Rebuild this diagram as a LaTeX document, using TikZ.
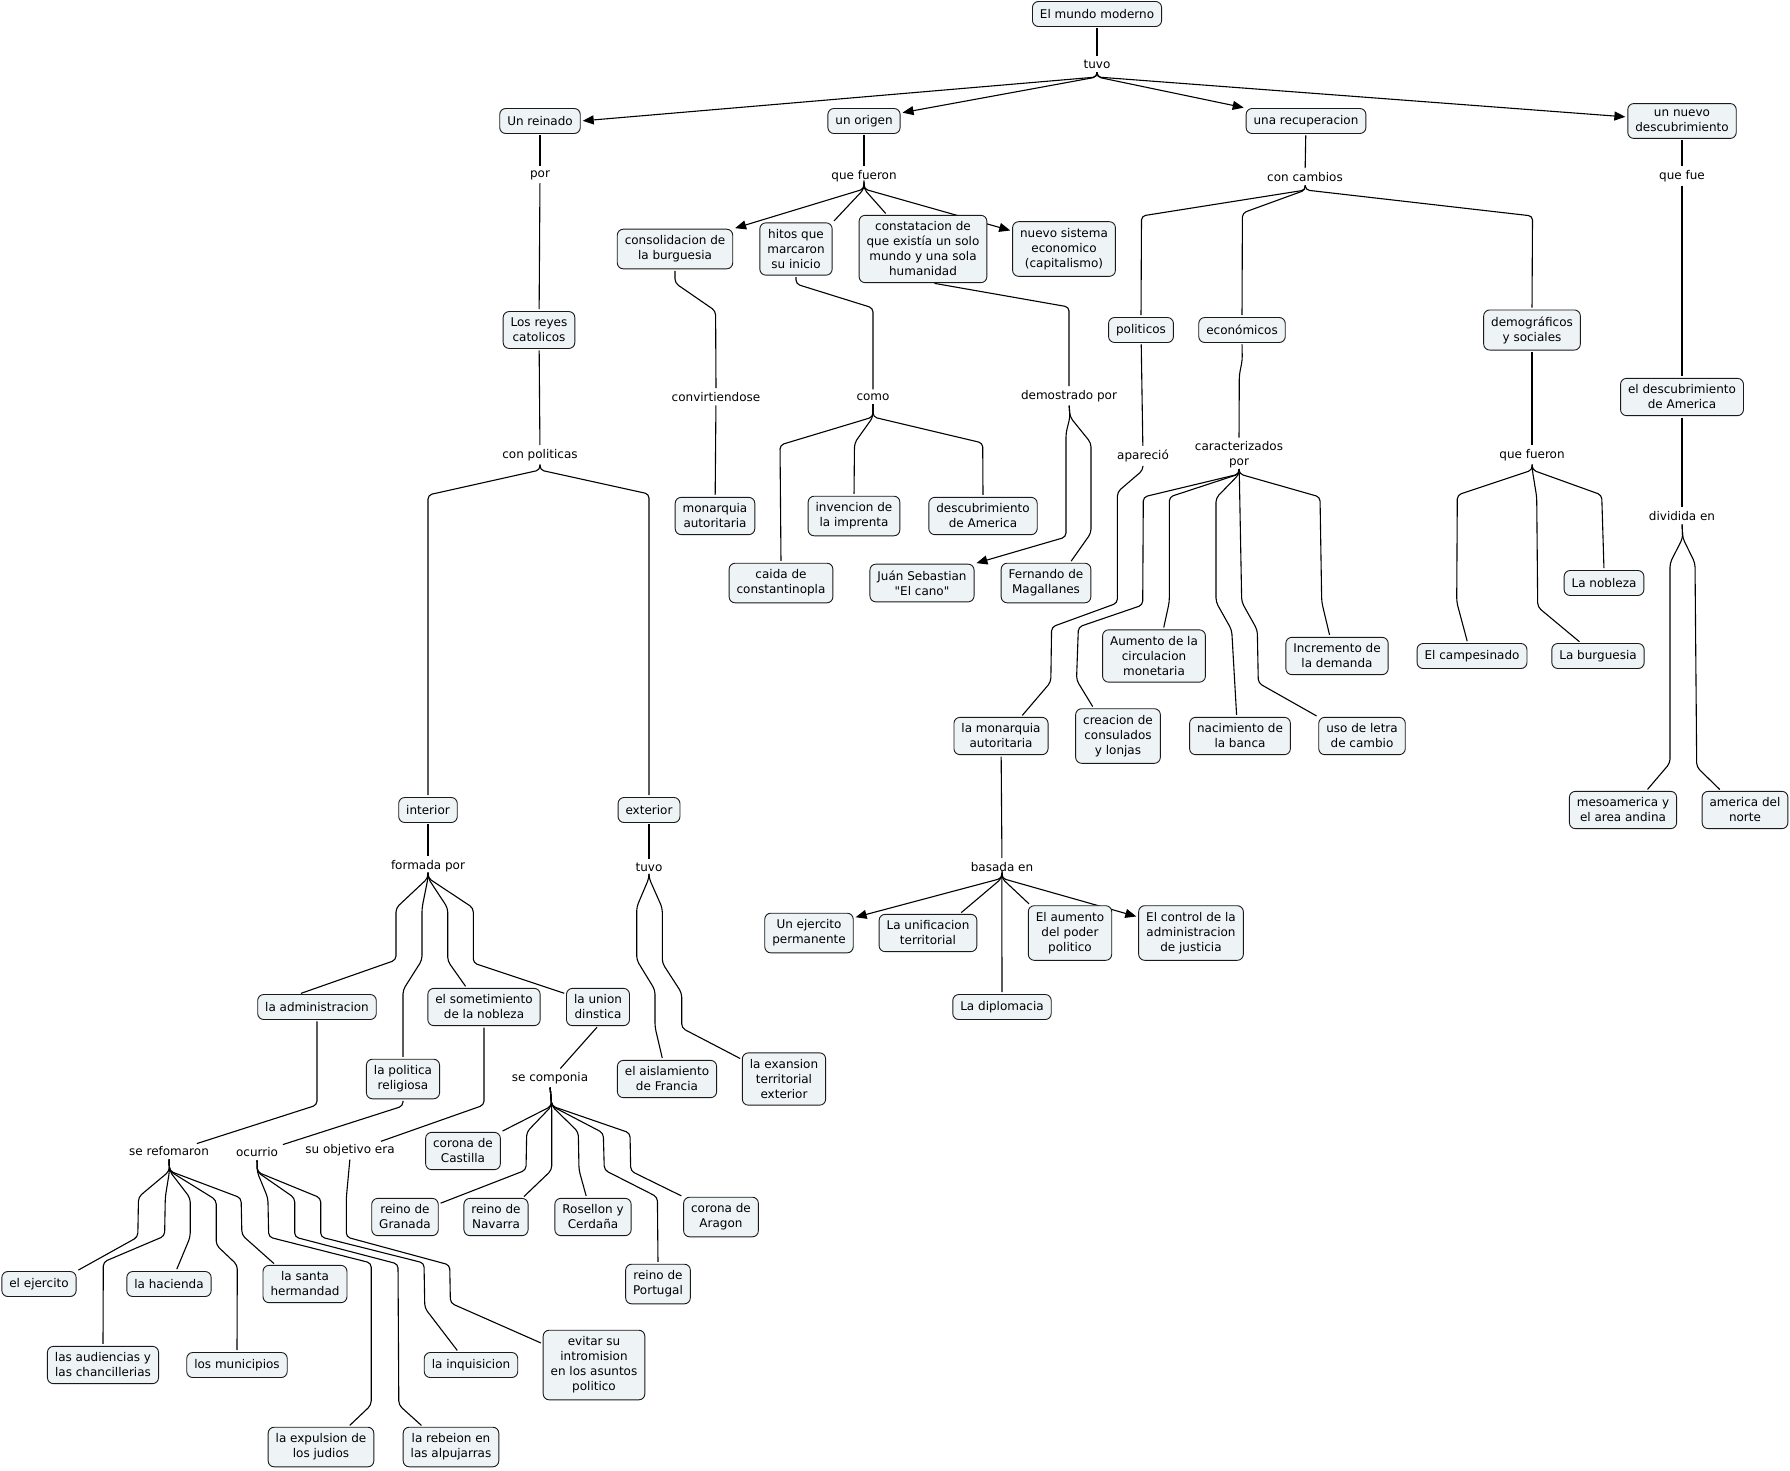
\documentclass[tikz,border=0pt]{standalone}
\usepackage{fontspec}
\setmainfont{DejaVu Sans}
\newfontfamily\rawfont{DejaVu Sans}[Ligatures=TeXOff]
\usetikzlibrary{arrows.meta,backgrounds}

\definecolor{cptfill}{HTML}{EEF3F6}
\definecolor{cptline}{HTML}{1A1A1A}

\begin{document}
\begin{tikzpicture}[
  x=1pt, y=-1pt,
  every node/.style={font=\fontsize{12}{15}\selectfont},
  cpt/.style={draw=cptline, fill=cptfill, line width=0.9pt, rounded corners=6pt,
    align=center, inner xsep=7.5pt, inner ysep=6.5pt, minimum height=25pt},
  lbl/.style={align=center, inner sep=2pt},
  link/.style={draw=black, line width=1.1pt, rounded corners=4pt, shorten <=1.5pt, shorten >=2pt},
  arr/.style={link, -{Triangle[length=11pt,width=9pt]}}
]
\useasboundingbox (0,0) rectangle (1790,1470);

% Root
\node[cpt] (mundo) at (1097,14) {El mundo moderno};
\node[lbl] (tuvoA) at (1097,64) {tuvo};

% First level
\node[cpt] (reinado) at (540,121) {Un reinado};
\node[cpt] (origen) at (864,121) {un origen};
\node[cpt] (recup) at (1306,121) {una recuperacion};
\node[cpt] (nuevo) at (1682,121) {un nuevo\\descubrimiento};

% Un reinado
\node[lbl] (por) at (540,175) {por};
\node[cpt] (reyes) at (539,330) {Los reyes\\catolicos};
\node[lbl] (conpol) at (540,455) {con politicas};
\node[cpt] (interior) at (428,810) {interior};
\node[cpt] (exterior) at (649,810) {exterior};
\node[lbl] (formada) at (428,866) {formada por};
\node[lbl] (tuvoB) at (649,867) {tuvo};
\node[cpt] (admin) at (317,1007) {la administracion};
\node[cpt] (somet) at (484,1007) {el sometimiento\\de la nobleza};
\node[cpt] (union) at (598,1007) {la union\\dinstica};
\node[cpt] (polrel) at (403,1079) {la politica\\religiosa};
\node[cpt] (aislam) at (667,1079) {el aislamiento\\de Francia};
\node[cpt] (expans) at (784,1079) {la exansion\\territorial\\exterior};
\node[lbl] (compon) at (550,1078) {se componia};
\node[cpt] (castilla) at (463,1151) {corona de\\Castilla};
\node[cpt] (granada) at (405,1217) {reino de\\Granada};
\node[cpt] (navarra) at (496,1217) {reino de\\Navarra};
\node[cpt] (rosellon) at (593,1217) {Rosellon y\\Cerdaña};
\node[cpt] (aragon) at (721,1217) {corona de\\Aragon};
\node[cpt] (portugal) at (658,1284) {reino de\\Portugal};
\node[lbl] (seref) at (169,1151) {se refomaron};
\node[lbl] (ocurrio) at (257,1152) {ocurrio};
\node[lbl] (objetivo) at (350,1150) {su objetivo era};
\node[cpt] (ejerc) at (39,1284) {el ejercito};
\node[cpt] (hacienda) at (169,1284) {la hacienda};
\node[cpt] (herman) at (305,1284) {la santa\\hermandad};
\node[cpt] (audien) at (103,1365) {las audiencias y\\las chancillerias};
\node[cpt] (munic) at (237,1365) {los municipios};
\node[cpt] (inquis) at (471,1365) {la inquisicion};
\node[cpt] (evitar) at (594,1365) {evitar su\\intromision\\en los asuntos\\politico};
\node[cpt] (expuls) at (321,1447) {la expulsion de\\los judios};
\node[cpt] (rebel) at (451,1447) {la rebeion en\\las alpujarras};

% un origen
\node[lbl] (fueronA) at (864,176) {que fueron};
\node[cpt] (consol) at (675,249) {consolidacion de\\la burguesia};
\node[cpt] (hitos) at (796,249) {hitos que\\marcaron\\su inicio};
\node[cpt] (constat) at (923,249) {constatacion de\\que existía un solo\\mundo y una sola\\humanidad};
\node[cpt] (sistema) at (1064,249) {nuevo sistema\\economico\\(capitalismo)};
\node[lbl] (convirt) at (716,397) {convirtiendose};
\node[lbl] (como) at (873,397) {como};
\node[lbl] (demost) at (1069,396) {demostrado por};
\node[cpt] (monaut) at (715,516) {monarquia\\autoritaria};
\node[cpt] (imprenta) at (854,516) {invencion de\\la imprenta};
\node[cpt] (descam) at (983,516) {descubrimiento\\de America};
\node[cpt] (caida) at (781,583) {caida de\\constantinopla};
\node[cpt] (elcano) at (922,583) {Juán Sebastian\\{\rawfont"El cano"}};
\node[cpt] (magall) at (1046,583) {Fernando de\\Magallanes};

% una recuperacion
\node[lbl] (cambios) at (1305,177) {con cambios};
\node[cpt] (politicos) at (1141,330) {politicos};
\node[cpt] (economicos) at (1242,330) {económicos};
\node[cpt] (demog) at (1532,330) {demográficos\\y sociales};
\node[lbl] (aparecio) at (1143,456) {apareció};
\node[lbl] (caract) at (1239,455) {caracterizados\\por};
\node[lbl] (fueronB) at (1532,455) {que fueron};
\node[cpt] (monaut2) at (1001,736) {la monarquia\\autoritaria};
\node[cpt] (consul) at (1118,736) {creacion de\\consulados\\y lonjas};
\node[cpt] (circul) at (1154,656) {Aumento de la\\circulacion\\monetaria};
\node[cpt] (banca) at (1240,736) {nacimiento de\\la banca};
\node[cpt] (letra) at (1362,736) {uso de letra\\de cambio};
\node[cpt] (demanda) at (1337,656) {Incremento de\\la demanda};
\node[cpt] (nobleza) at (1604,583) {La nobleza};
\node[cpt] (campes) at (1472,656) {El campesinado};
\node[cpt] (burgues) at (1598,656) {La burguesia};
\node[lbl] (basada) at (1002,867) {basada en};
\node[cpt] (ejercito) at (809,933) {Un ejercito\\permanente};
\node[cpt] (unific) at (928,933) {La unificacion\\territorial};
\node[cpt] (poder) at (1070,933) {El aumento\\del poder\\politico};
\node[cpt] (control) at (1191,933) {El control de la\\administracion\\de justicia};
\node[cpt] (diplom) at (1002,1007) {La diplomacia};

% un nuevo descubrimiento
\node[lbl] (quefue) at (1682,176) {que fue};
\node[cpt] (descub) at (1682,397) {el descubrimiento\\de America};
\node[lbl] (dividida) at (1682,516) {dividida en};
\node[cpt] (mesoam) at (1623,810) {mesoamerica y\\el area andina};
\node[cpt] (norte) at (1745,810) {america del\\norte};

\begin{scope}[on background layer]
\fill[white] (0,0) rectangle (1790,1470);

% root links
\draw[link] (mundo) -- (tuvoA);
\draw[arr] (tuvoA.south) -- (1097,77) -- (reinado.east);
\draw[arr] (tuvoA.south) -- (1097,77) -- ([yshift=8pt]origen.east);
\draw[arr] (tuvoA.south) -- (1097,77) -- (recup.north west);
\draw[arr] (tuvoA.south) -- (1097,77) -- ([yshift=4pt]nuevo.west);

% Un reinado links
\draw[link] (reinado) -- (por);
\draw[link] (por) -- (reyes);
\draw[link] (reyes) -- (conpol);
\draw[link] (conpol.south) -- (540,470) -- (428,495) -- (interior.north);
\draw[link] (conpol.south) -- (540,470) -- (649,494) -- (exterior.north);
\draw[link] (interior) -- (formada);
\draw[link] (exterior) -- (tuvoB);
\draw[link] (formada.south) -- (428,878) -- (396,908) -- (396,960) -- (299,0 |- admin.north);
\draw[link] (formada.south) -- (428,878) -- (422,908) -- (422,960) -- (403,990) -- (polrel.north);
\draw[link] (formada.south) -- (428,878) -- (447.7,908) -- (447.7,961) -- (466.7,0 |- somet.north);
\draw[link] (formada.south) -- (428,878) -- (473.3,908) -- (473.3,963) -- ([yshift=-6pt]union.north west);
\draw[link] (tuvoB.south) -- (649,878) -- (636.7,907) -- (636.7,960) -- (655,990) -- (655,1027) -- (662.7,0 |- aislam.north);
\draw[link] (tuvoB.south) -- (649,878) -- (662.3,908) -- (662.3,963) -- (681.7,993) -- (681.7,1028) -- ([yshift=-7pt]expans.north west);
\draw[link] (admin.south) -- (317,1105) -- (195,0 |- seref.north);
\draw[link] (polrel.south) -- (403,1106) -- (281,0 |- ocurrio.north);
\draw[link] (somet.south) -- (484,1105) -- (379,0 |- objetivo.north);
\draw[link] (union.south) -- (559,0 |- compon.north);

% se componia
\draw[link] (compon.south) -- (551.7,1106) -- (castilla.north east);
\draw[link] (compon.south) -- (551.7,1106) -- (526.7,1132) -- (526,1170) -- ([yshift=-6pt]granada.north east);
\draw[link] (compon.south) -- (551.7,1106) -- (551.7,1170) -- ([xshift=-6pt]navarra.north east);
\draw[link] (compon.south) -- (551.7,1106) -- (578.3,1132) -- (579,1170) -- (586.7,0 |- rosellon.north);
\draw[link] (compon.south) -- (551.7,1106) -- (603.3,1133) -- (604.3,1170) -- (657.4,1197) -- (portugal.north);
\draw[link] (compon.south) -- (551.7,1106) -- (630,1133) -- (630.7,1171) -- (aragon.north west);

% se refomaron
\draw[link] (seref.south) -- (169.5,1171) -- (138.5,1197) -- (137.8,1237) -- (ejerc.north east);
\draw[link] (seref.south) -- (169.5,1171) -- (165.3,1197) -- (164.6,1236) -- (103.3,1262) -- (audien.north);
\draw[link] (seref.south) -- (169.5,1171) -- (190.2,1198) -- (190.2,1237) -- (176,0 |- hacienda.north);
\draw[link] (seref.south) -- (169.5,1171) -- (216.2,1200) -- (216.2,1245) -- (237.3,1265) -- (munic.north);
\draw[link] (seref.south) -- (169.5,1171) -- (241.1,1198) -- (241.9,1235) -- (275.5,0 |- herman.north);

% ocurrio / su objetivo era
\draw[link] (ocurrio.south) -- (257.2,1172) -- (267.9,1198) -- (268.7,1237) -- (371.2,1263) -- (371.2,1405) -- (348.3,0 |- expuls.north);
\draw[link] (ocurrio.south) -- (257.2,1172) -- (294.7,1198) -- (294.7,1237) -- (398,1264) -- (398.8,1405) -- (422.9,0 |- rebel.north);
\draw[link] (ocurrio.south) -- (257.2,1172) -- (320.7,1198) -- (320.7,1237) -- (424,1263) -- (424.8,1308) -- (458.5,0 |- inquis.north);
\draw[link] (objetivo.south) -- (346.3,1198) -- (346.3,1237) -- (449.7,1265) -- (450.4,1303) -- ([yshift=-14pt]evitar.north west);

% un origen links
\draw[link] (origen) -- (fueronA);
\draw[arr] (fueronA.south) -- (864,189) -- (consol.north east);
\draw[link] (fueronA.south) -- (864,189) -- (hitos.north east);
\draw[link] (fueronA.south) -- (864,189) -- (887,0 |- constat.north);
\draw[arr] (fueronA.south) -- (864,189) -- ([yshift=18pt]sistema.west);
\draw[link] (consol.south) -- (675,283) -- (715.6,311) -- (convirt.north);
\draw[link] (convirt) -- (monaut);
\draw[link] (hitos.south) -- (796,284) -- (873,308) -- (como.north);
\draw[link] (como.south) -- (873,417) -- (780,445) -- (caida.north);
\draw[link] (como.south) -- (873,417) -- (854.5,443) -- (imprenta.north);
\draw[link] (como.south) -- (873,417) -- (982.7,443) -- (descam.north);
\draw[link] ([xshift=10pt]constat.south) -- (1069,307) -- (demost.north);
\draw[arr] (demost.south) -- (1070,417) -- (1066,433) -- (1066,537) -- (elcano.north east);
\draw[link] (demost.south) -- (1070,417) -- (1091,443) -- (1091,533) -- (1070,0 |- magall.north);

% una recuperacion links
\draw[link] (recup) -- (cambios);
\draw[link] (cambios.south) -- (1305.6,190) -- (1141.5,216) -- (politicos.north);
\draw[link] (cambios.south) -- (1305.6,190) -- (1242.4,213) -- (economicos.north);
\draw[link] (cambios.south) -- (1305.6,190) -- (1532.5,216) -- (demog.north);
\draw[link] (politicos) -- (aparecio);
\draw[link] (aparecio.south) -- (1143,470) -- (1117.4,492) -- (1117.4,603) -- (1051.6,627) -- (1050.8,682) -- (1021,0 |- monaut2.north);
\draw[link] (economicos.south) -- (1242.3,360) -- (1239.3,375) -- (caract.north);
\draw[link] (caract.south) -- (1239.3,474) -- (1143.3,497) -- (1142.7,605) -- (1078.4,627) -- (1076.5,680) -- (1093.7,0 |- consul.north);
\draw[link] (caract.south) -- (1239.3,474) -- (1169.3,497) -- (1169.3,602) -- (1163.3,0 |- circul.north);
\draw[link] (caract.south) -- (1239.3,474) -- (1216,498) -- (1216,602) -- (1231.7,630) -- (1236.7,0 |- banca.north);
\draw[link] (caract.south) -- (1239.3,474) -- (1241.7,602) -- (1257.3,630) -- (1258.3,683) -- (letra.north west);
\draw[link] (caract.south) -- (1239.3,474) -- (1320,497) -- (1321.7,602) -- (1330,0 |- demanda.north);
\draw[link] (demog) -- (fueronB);
\draw[link] (fueronB.south) -- (1532.3,470) -- (1457.3,495) -- (1456.7,602) -- (1467.7,0 |- campes.north);
\draw[link] (fueronB.south) -- (1532.3,470) -- (1536.7,497) -- (1537.7,607) -- (1581,0 |- burgues.north);
\draw[link] (fueronB.south) -- (1532.3,470) -- (1601.7,495) -- (nobleza.north);
\draw[link] (monaut2) -- (basada);
\draw[arr] (basada.south) -- (1001.8,878.3) -- ([yshift=-5pt]ejercito.north east);
\draw[link] (basada.south) -- (1001.8,878.3) -- (959.7,0 |- unific.north);
\draw[link] (basada.south) -- (1001.8,878.3) -- (diplom.north);
\draw[link] (basada.south) -- (1001.8,878.3) -- (1030.5,0 |- poder.north);
\draw[arr] (basada.south) -- (1001.8,878.3) -- ([yshift=16pt]control.west);

% un nuevo descubrimiento links
\draw[link] (nuevo) -- (quefue);
\draw[link] (quefue) -- (descub);
\draw[link] (descub) -- (dividida);
\draw[link] (dividida.south) -- (1682.7,538) -- (1670,563) -- (1670,763) -- (1646.2,0 |- mesoam.north);
\draw[link] (dividida.south) -- (1682.7,538) -- (1695,563) -- (1696.7,767) -- (1721.2,0 |- norte.north);
\end{scope}
\end{tikzpicture}
\end{document}
